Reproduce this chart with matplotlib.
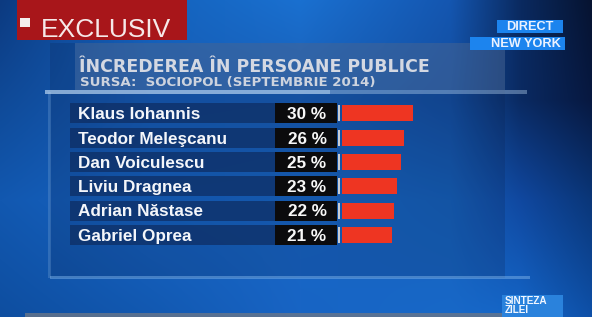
import numpy as np
import matplotlib
matplotlib.use("Agg")
import matplotlib.pyplot as plt
from matplotlib.patches import Rectangle

# ---- data ----
names = ["Klaus Iohannis", "Teodor Meleşcanu", "Dan Voiculescu",
         "Liviu Dragnea", "Adrian Năstase", "Gabriel Oprea"]
values = [30, 26, 25, 23, 22, 21]
title = "ÎNCREDEREA ÎN PERSOANE PUBLICE"
subtitle = "SURSA:  SOCIOPOL (SEPTEMBRIE 2014)"
badge = "EXCLUSIV"
tag1, tag2 = "DIRECT", "NEW YORK"
logo = "SINTEZA\nZILEI"

W, H = 592, 317
fig = plt.figure(figsize=(W / 100, H / 100), dpi=100)

# ---- background (pixel coordinates) ----
bg = fig.add_axes([0, 0, 1, 1])
bg.set_xlim(0, W)
bg.set_ylim(H, 0)
bg.axis("off")

def hx(c):
    c = c.lstrip("#")
    return [int(c[i:i + 2], 16) / 255 for i in (0, 2, 4)]

gx = np.array([0, 150, 300, 450, 520, 592])
gy = np.array([0, 100, 200, 317])
grid = [
    ["#0c3a80", "#1462bc", "#1a70d0", "#1456b0", "#0a2a60", "#061330"],
    ["#0f4a98", "#165cb6", "#185eb6", "#134ea0", "#0a2a62", "#071840"],
    ["#1258b0", "#1664c4", "#1868c8", "#1662bc", "#1048a0", "#0a3678"],
    ["#0e4ea0", "#1258b0", "#1864c4", "#1868c8", "#1466c8", "#0e50a8"],
]
G = np.array([[hx(c) for c in row] for row in grid])
xs = np.arange(W)
ys = np.arange(H)
tmp = np.zeros((len(gy), W, 3))
for i in range(len(gy)):
    for k in range(3):
        tmp[i, :, k] = np.interp(xs, gx, G[i, :, k])
img = np.zeros((H, W, 3))
for k in range(3):
    for j in range(W):
        img[:, j, k] = np.interp(ys, gy, tmp[:, j, k])
bg.imshow(img, extent=(0, W, H, 0), aspect="auto", zorder=0)

# chart panel
bg.add_patch(Rectangle((50, 43), 455, 235, facecolor="#0a1e48", alpha=0.2, zorder=1, lw=0))
bg.add_patch(Rectangle((75, 43), 430, 47, facecolor="#5a7aa8", alpha=0.4, zorder=1, lw=0))
bg.add_patch(Rectangle((48, 92), 3, 186, facecolor="#6a9ad0", alpha=0.35, zorder=2, lw=0))
# bright separator lines
for x0, x1, a in [(45, 330, 0.7), (330, 527, 0.4)]:
    bg.add_patch(Rectangle((x0, 89.5), x1 - x0, 4, facecolor="#b8d4f0", alpha=a, zorder=2, lw=0))
bg.add_patch(Rectangle((50, 276), 480, 3, facecolor="#7ab0e8", alpha=0.5, zorder=2, lw=0))
bg.add_patch(Rectangle((25, 313), 480, 4, facecolor="#6a7688", alpha=0.8, zorder=2, lw=0))

# badge
bg.add_patch(Rectangle((17, 0), 170, 40, facecolor="#a8161a", zorder=3, lw=0))
bg.add_patch(Rectangle((20, 18), 10, 9, facecolor="#f4eeee", zorder=4, lw=0))
bg.text(41, 37, badge, color="#f6e8e8", fontsize=19, family="Liberation Sans",
        va="baseline", ha="left", zorder=4)

# tags
bg.add_patch(Rectangle((497, 20), 66, 13, facecolor="#1c84ee", zorder=3, lw=0))
bg.text(530, 27, tag1, color="#eaf2ff", fontsize=9.2, weight="bold",
        family="Liberation Sans", ha="center", va="center", zorder=4)
bg.add_patch(Rectangle((470, 37), 95, 13, facecolor="#1c84ee", zorder=3, lw=0))
bg.text(561, 44, tag2, color="#eaf2ff", fontsize=9.2, weight="bold",
        family="Liberation Sans", ha="right", va="center", zorder=4)

# logo
bg.add_patch(Rectangle((502, 295), 61, 22, facecolor="#2a82dc", zorder=3, lw=0))
bg.text(505, 295.5, logo, color="#f0f6ff", fontsize=7.2, weight="bold",
        family="Liberation Sans", ha="left", va="top", linespacing=0.9, zorder=4)

# title / subtitle
bg.text(79, 72, title, color="#d4d8e2", fontsize=12.5, weight="bold",
        family="DejaVu Sans", ha="left", va="baseline", zorder=4)
bg.text(80, 86, subtitle, color="#cdd3de", fontsize=9.6, weight="bold",
        family="DejaVu Sans", ha="left", va="baseline", zorder=4)

# ---- bar axes: x in percent, y in row index ----
X0, PXPER = 342.0, 2.37
Y0, PITCH = 113.5, 24.3
ax = fig.add_axes([0, 0, 1, 1])
ax.set_xlim((0 - X0) / PXPER, (W - X0) / PXPER)
ax.set_ylim((H - Y0) / PITCH, (0 - Y0) / PITCH)
ax.axis("off")
ax.patch.set_alpha(0)

def px(p):
    return (p - X0) / PXPER

idx = np.arange(len(names))
# name strips
ax.barh(idx, px(275) - px(70), left=px(70), height=20 / PITCH,
        color="#0e2c60", alpha=0.7, zorder=2)
# value boxes
ax.barh(idx, px(337) - px(275), left=px(275), height=20 / PITCH,
        color="#0b0b0d", zorder=3)
ax.barh(idx, px(339.5) - px(337.5), left=px(337.5), height=16 / PITCH,
        color="#c8ccd4", zorder=3)
# red bars
ax.barh(idx, values, left=0, height=16 / PITCH, color="#ee3522", zorder=3)

for i, (n, v) in enumerate(zip(names, values)):
    ax.text(px(78), i + 0.05, n, color="#f4f6fa", fontsize=12.3, weight="bold",
            family="Liberation Sans", ha="left", va="center", zorder=4)
    ax.text(px(307), i + 0.05, f"{v} %", color="#f8f8f8", fontsize=12.3, weight="bold",
            family="Liberation Sans", ha="center", va="center", zorder=4)

fig.savefig("out.png", dpi=100)
